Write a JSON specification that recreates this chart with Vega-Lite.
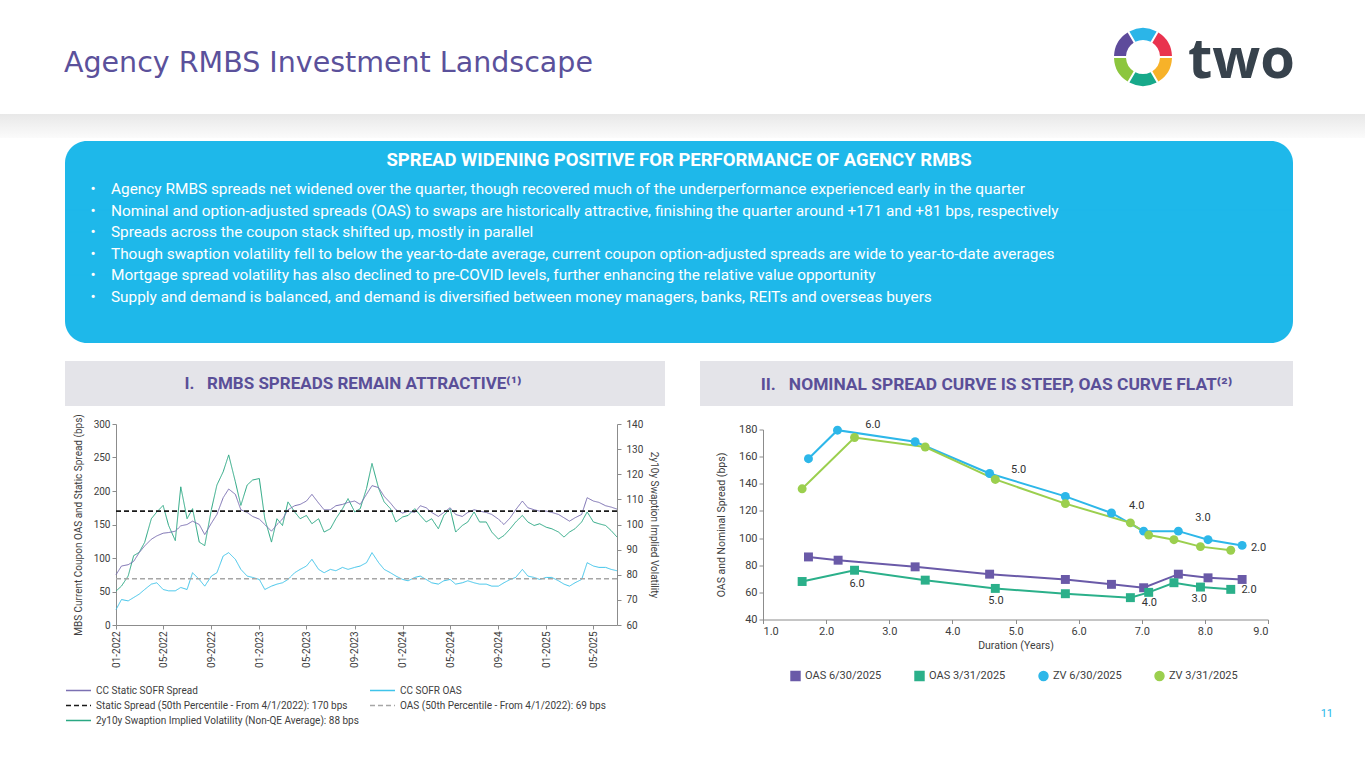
{
  "$schema": "https://vega.github.io/schema/vega-lite/v6.json",
  "padding": 0,
  "background": "#ffffff",
  "config": {
    "font": "Roboto",
    "view": {"stroke": null},
    "axis": {"labelFont": "Roboto", "titleFont": "Roboto", "labelColor": "#404040", "titleColor": "#404040", "domainColor": "#8c8c8c", "tickColor": "#8c8c8c", "grid": false, "titleFontWeight": "normal", "labelOverlap": false},
    "legend": {"labelFont": "Roboto", "labelColor": "#404040"},
    "title": {"font": "Roboto"}
  },
  "spacing": 0,
  "resolve": {"scale": {"color": "independent", "shape": "independent", "strokeDash": "independent"}, "legend": {"color": "independent", "shape": "independent", "strokeDash": "independent"}},
  "vconcat": [
    {
      "spacing": 0,
      "bounds": "flush",
      "resolve": {"scale": {"color": "independent"}, "legend": {"color": "independent"}},
      "hconcat": [
        {"width": 1113, "height": 114, "data": {"values": []}, "mark": "point",
         "title": {"text": "Agency RMBS Investment Landscape", "orient": "bottom", "anchor": "start", "frame": "group", "dx": 64, "offset": -65.5, "fontSize": 28.5, "font": "DejaVu Sans", "fontWeight": 400, "color": "#5b519b"}},
        {"width": 60, "height": 114,
         "data": {"values": [{"k": "a", "v": 1}, {"k": "b", "v": 1}, {"k": "c", "v": 1}, {"k": "d", "v": 1}, {"k": "e", "v": 1}, {"k": "f", "v": 1}]},
         "mark": {"type": "arc", "innerRadius": 17, "outerRadius": 29, "padAngle": 0.06, "thetaOffset": -0.5236},
         "encoding": {
           "theta": {"field": "v", "type": "quantitative", "stack": true},
           "order": {"field": "k"},
           "color": {"field": "k", "type": "nominal", "legend": null, "scale": {"domain": ["a", "b", "c", "d", "e", "f"], "range": ["#2bb5e8", "#e9334f", "#f7b229", "#17a98a", "#8cc63e", "#5e4b9b"]}}
         }},
        {"width": 192, "height": 114, "data": {"values": []}, "mark": "point",
         "title": {"text": "two", "orient": "bottom", "anchor": "start", "frame": "group", "dx": 15, "offset": -80, "fontSize": 56, "font": "Open Sans", "fontWeight": "bold", "color": "#37424c"}}
      ]
    },
    {"width": 1365, "height": 24, "data": {"values": []}, "mark": "point",
     "view": {"fill": {"gradient": "linear", "x1": 0, "y1": 0, "x2": 0, "y2": 1, "stops": [{"offset": 0, "color": "#e8e8e8"}, {"offset": 1, "color": "#fbfbfb"}]}}},
    {
      "spacing": 0,
      "bounds": "flush",
      "hconcat": [
        {"width": 65, "height": 202, "data": {"values": []}, "mark": "point"},
        {"width": 1228, "height": 202,
         "view": {"fill": "#1eb8ea", "cornerRadius": 22},
         "title": {"text": "SPREAD WIDENING POSITIVE FOR PERFORMANCE OF AGENCY RMBS", "orient": "top", "anchor": "middle", "offset": -31, "fontSize": 18.5, "fontWeight": "bold", "color": "#ffffff"},
         "data": {"name": "bullets"},
         "mark": {"type": "rule", "color": "#1eb8ea", "strokeWidth": 1},
         "encoding": {
           "y": {"field": "line", "type": "nominal", "sort": null,
                 "scale": {"type": "point", "padding": 0.176, "align": 0.566,
                           "domain": [" ", "  ",
                                      "•\u00a0\u00a0\u00a0\u00a0Agency RMBS spreads net widened over the quarter, though recovered much of the underperformance experienced early in the quarter",
                                      "•\u00a0\u00a0\u00a0\u00a0Nominal and option-adjusted spreads (OAS) to swaps are historically attractive, finishing the quarter around +171 and +81 bps, respectively",
                                      "•\u00a0\u00a0\u00a0\u00a0Spreads across the coupon stack shifted up, mostly in parallel",
                                      "•\u00a0\u00a0\u00a0\u00a0Though swaption volatility fell to below the year-to-date average, current coupon option-adjusted spreads are wide to year-to-date averages",
                                      "•\u00a0\u00a0\u00a0\u00a0Mortgage spread volatility has also declined to pre-COVID levels, further enhancing the relative value opportunity",
                                      "•\u00a0\u00a0\u00a0\u00a0Supply and demand is balanced, and demand is diversified between money managers, banks, REITs and overseas buyers",
                                      "   ", "    "]},
                 "axis": {"orient": "left", "title": null, "domain": false, "ticks": false, "tickSize": 0, "labelAlign": "left", "labelBaseline": "middle", "labelPadding": -25, "labelColor": "#ffffff", "labelFontSize": 15.4, "labelLimit": 0, "zindex": 1}}
         }}
      ]
    },
    {"width": 1, "height": 12, "data": {"values": []}, "mark": "point"},
    {
      "spacing": 0,
      "bounds": "flush",
      "hconcat": [
        {"width": 65, "height": 45, "data": {"values": []}, "mark": "point"},
        {"width": 600, "height": 45, "data": {"values": []}, "mark": "point", "view": {"fill": "#e4e4e9"},
         "title": {"text": "I.\u00a0\u00a0\u00a0RMBS SPREADS REMAIN ATTRACTIVE⁽¹⁾", "orient": "top", "anchor": "middle", "offset": -32, "dx": -12, "fontSize": 17, "fontWeight": "bold", "color": "#5a4f98"}},
        {"width": 35, "height": 45, "data": {"values": []}, "mark": "point"},
        {"width": 593, "height": 45, "data": {"values": []}, "mark": "point", "view": {"fill": "#e4e4e9"},
         "title": {"text": "II.\u00a0\u00a0\u00a0NOMINAL SPREAD CURVE IS STEEP, OAS CURVE FLAT⁽²⁾", "orient": "top", "anchor": "middle", "offset": -32, "fontSize": 17.4, "fontWeight": "bold", "color": "#5a4f98"}}
      ]
    },
    {"width": 1, "height": 7, "data": {"values": []}, "mark": "point"},
    {
      "spacing": 0,
      "bounds": "flush",
      "center": true,
      "resolve": {"scale": {"color": "independent", "shape": "independent", "strokeDash": "independent"}, "legend": {"color": "independent", "shape": "independent", "strokeDash": "independent"}},
      "hconcat": [
        {"width": 116, "height": 201, "data": {"values": []}, "mark": "point"},
        {
          "width": 501, "height": 201,
          "layer": [
            {
              "data": {"name": "ts"},
              "transform": [{"fold": ["v"], "as": ["k", "val"]}],
              "mark": {"type": "line", "strokeWidth": 1},
              "encoding": {
                "x": {"field": "d", "type": "temporal", "title": null,
                      "scale": {"type": "utc", "domain": [{"year": 2022, "month": 1, "date": 1, "utc": true}, {"year": 2025, "month": 6, "date": 30, "utc": true}]},
                      "axis": {"values": [{"year": 2022, "month": 1, "date": 1, "utc": true}, {"year": 2022, "month": 5, "date": 1, "utc": true}, {"year": 2022, "month": 9, "date": 1, "utc": true}, {"year": 2023, "month": 1, "date": 1, "utc": true}, {"year": 2023, "month": 5, "date": 1, "utc": true}, {"year": 2023, "month": 9, "date": 1, "utc": true}, {"year": 2024, "month": 1, "date": 1, "utc": true}, {"year": 2024, "month": 5, "date": 1, "utc": true}, {"year": 2024, "month": 9, "date": 1, "utc": true}, {"year": 2025, "month": 1, "date": 1, "utc": true}, {"year": 2025, "month": 5, "date": 1, "utc": true}],
                               "format": "%m-%Y", "labelAngle": -90, "labelFontSize": 10, "tickSize": 4, "labelPadding": 2}},
                "y": {"field": "val", "type": "quantitative", "scale": {"domain": [60, 140]},
                      "axis": {"orient": "right", "values": [60, 70, 80, 90, 100, 110, 120, 130, 140], "tickCount": 20, "title": "2y10y Swaption Implied Volatility", "titleAngle": 90, "titleFontSize": 10, "labelFontSize": 10, "tickSize": 4, "labelPadding": 5, "titlePadding": 6}},
                "color": {"field": "k", "type": "nominal",
                          "scale": {"domain": ["s", "o", "p1", "p2", "v"], "range": ["#7b70b2", "#3fc4ea", "#1a1a1a", "#a6a6a6", "#2aa883"]},
                          "legend": {"orient": "none", "legendX": -51, "legendY": 260, "direction": "horizontal", "title": null, "columns": 2, "columnPadding": 10, "rowPadding": 2, "clipHeight": 13, "symbolType": "stroke", "symbolSize": 625, "symbolStrokeWidth": 1.5, "labelFontSize": 10, "labelLimit": 0,
                                     "labelExpr": "datum.label == 's' ? 'CC Static SOFR Spread' : datum.label == 'o' ? 'CC SOFR OAS' : datum.label == 'p1' ? 'Static Spread (50th Percentile - From 4/1/2022): 170 bps' : datum.label == 'p2' ? 'OAS (50th Percentile - From 4/1/2022): 69 bps' : '2y10y Swaption Implied Volatility (Non-QE Average): 88 bps'"}},
                "strokeDash": {"field": "k", "type": "nominal",
                               "scale": {"domain": ["s", "o", "p1", "p2", "v"], "range": [[1, 0], [1, 0], [5, 3], [5, 3], [1, 0]]},
                               "legend": {"orient": "none", "legendX": -51, "legendY": 260, "direction": "horizontal", "title": null, "columns": 2, "columnPadding": 10, "rowPadding": 2, "clipHeight": 13, "symbolType": "stroke", "symbolSize": 625, "symbolStrokeWidth": 1.5, "labelFontSize": 10, "labelLimit": 0,
                                     "labelExpr": "datum.label == 's' ? 'CC Static SOFR Spread' : datum.label == 'o' ? 'CC SOFR OAS' : datum.label == 'p1' ? 'Static Spread (50th Percentile - From 4/1/2022): 170 bps' : datum.label == 'p2' ? 'OAS (50th Percentile - From 4/1/2022): 69 bps' : '2y10y Swaption Implied Volatility (Non-QE Average): 88 bps'"}}
              }
            },
            {
              "layer": [
                {
                  "data": {"name": "ts"},
                  "transform": [{"fold": ["s", "o"], "as": ["k", "val"]}],
                  "mark": {"type": "line", "strokeWidth": 1},
                  "encoding": {
                    "x": {"field": "d", "type": "temporal"},
                    "y": {"field": "val", "type": "quantitative", "scale": {"domain": [0, 300]},
                          "axis": {"orient": "left", "values": [0, 50, 100, 150, 200, 250, 300], "tickCount": 20, "title": "MBS Current Coupon OAS and Static Spread (bps)", "titleFontSize": 10, "labelFontSize": 10, "tickSize": 4, "titlePadding": 10}},
                    "color": {"field": "k", "type": "nominal"},
                    "strokeDash": {"field": "k", "type": "nominal"}
                  }
                },
                {
                  "data": {"name": "ref"},
                  "mark": {"type": "line", "strokeWidth": 1.6},
                  "encoding": {
                    "x": {"field": "d", "type": "temporal"},
                    "y": {"field": "val", "type": "quantitative"},
                    "color": {"field": "k", "type": "nominal"},
                    "strokeDash": {"field": "k", "type": "nominal"}
                  }
                }
              ]
            }
          ],
          "resolve": {"scale": {"y": "independent"}}
        },
        {"width": 146, "height": 1, "data": {"values": []}, "mark": "point"},
        {
          "width": 505, "height": 190,
          "title": {"text": "11", "orient": "bottom", "anchor": "end", "frame": "group", "dx": 65, "offset": 24, "fontSize": 11, "fontWeight": "normal", "color": "#1fb8ea"},
          "layer": [
            {
              "data": {"name": "dur"},
              "mark": {"type": "line", "strokeWidth": 2},
              "encoding": {
                "x": {"field": "dur", "type": "quantitative", "scale": {"domain": [1, 9]},
                      "axis": {"values": [1, 2, 3, 4, 5, 6, 7, 8, 9], "tickCount": 20, "format": ".1f", "title": "Duration (Years)", "labelFontSize": 11, "titleFontSize": 10.5, "tickSize": 4}},
                "y": {"field": "spr", "type": "quantitative", "scale": {"domain": [40, 180]},
                      "axis": {"values": [40, 60, 80, 100, 120, 140, 160, 180], "tickCount": 20, "title": "OAS and Nominal Spread (bps)", "labelFontSize": 11, "titleFontSize": 10.5, "tickSize": 4, "titlePadding": 12}},
                "color": {"field": "s", "type": "nominal",
                          "scale": {"domain": ["OAS 6/30/2025", "OAS 3/31/2025", "ZV 6/30/2025", "ZV 3/31/2025"], "range": ["#6a5aa8", "#2bb08a", "#2db7e9", "#9bcf4e"]},
                          "legend": {"orient": "none", "legendX": 27, "legendY": 241, "direction": "horizontal", "title": null, "labelFontSize": 11, "symbolSize": 80, "columnPadding": 30}}
              }
            },
            {
              "data": {"name": "dur"},
              "mark": {"type": "point", "filled": true, "size": 80, "opacity": 1},
              "encoding": {
                "x": {"field": "dur", "type": "quantitative"},
                "y": {"field": "spr", "type": "quantitative"},
                "color": {"field": "s", "type": "nominal"},
                "shape": {"field": "s", "type": "nominal",
                          "scale": {"domain": ["OAS 6/30/2025", "OAS 3/31/2025", "ZV 6/30/2025", "ZV 3/31/2025"], "range": ["square", "square", "circle", "circle"]}}
              }
            },
            {
              "data": {"name": "lbl"},
              "mark": {"type": "text", "fontSize": 11, "color": "#333333"},
              "encoding": {
                "x": {"field": "dur", "type": "quantitative"},
                "y": {"field": "spr", "type": "quantitative"},
                "text": {"field": "t", "type": "nominal"}
              }
            }
          ]
        }
      ]
    }
  ],
  "datasets": {
    "bullets": [
      {"line": "•\u00a0\u00a0\u00a0\u00a0Agency RMBS spreads net widened over the quarter, though recovered much of the underperformance experienced early in the quarter"},
      {"line": "•\u00a0\u00a0\u00a0\u00a0Nominal and option-adjusted spreads (OAS) to swaps are historically attractive, finishing the quarter around +171 and +81 bps, respectively"},
      {"line": "•\u00a0\u00a0\u00a0\u00a0Spreads across the coupon stack shifted up, mostly in parallel"},
      {"line": "•\u00a0\u00a0\u00a0\u00a0Though swaption volatility fell to below the year-to-date average, current coupon option-adjusted spreads are wide to year-to-date averages"},
      {"line": "•\u00a0\u00a0\u00a0\u00a0Mortgage spread volatility has also declined to pre-COVID levels, further enhancing the relative value opportunity"},
      {"line": "•\u00a0\u00a0\u00a0\u00a0Supply and demand is balanced, and demand is diversified between money managers, banks, REITs and overseas buyers"}
    ],
    "ref": [
      {"d": "2022-01-01", "k": "p1", "val": 170}, {"d": "2025-06-30", "k": "p1", "val": 170},
      {"d": "2022-01-01", "k": "p2", "val": 69}, {"d": "2025-06-30", "k": "p2", "val": 69}
    ],
    "ts": [
      {"d": "2022-01-01", "s": 75, "o": 23, "v": 73.5},
      {"d": "2022-01-15", "s": 88, "o": 38, "v": 75.5},
      {"d": "2022-02-01", "s": 90, "o": 36, "v": 79.5},
      {"d": "2022-02-15", "s": 95, "o": 41, "v": 87.6},
      {"d": "2022-03-01", "s": 108, "o": 46, "v": 88.9},
      {"d": "2022-03-15", "s": 118, "o": 53, "v": 92.9},
      {"d": "2022-04-01", "s": 128, "o": 61, "v": 102.3},
      {"d": "2022-04-15", "s": 133, "o": 63, "v": 105},
      {"d": "2022-05-01", "s": 137, "o": 53, "v": 107.6},
      {"d": "2022-05-15", "s": 138, "o": 51, "v": 99.6},
      {"d": "2022-06-01", "s": 140, "o": 51, "v": 93.6},
      {"d": "2022-06-15", "s": 148, "o": 56, "v": 115},
      {"d": "2022-07-01", "s": 150, "o": 53, "v": 102.3},
      {"d": "2022-07-15", "s": 155, "o": 78, "v": 106.3},
      {"d": "2022-08-01", "s": 150, "o": 68, "v": 93},
      {"d": "2022-08-15", "s": 135, "o": 58, "v": 91.6},
      {"d": "2022-09-01", "s": 152, "o": 73, "v": 106},
      {"d": "2022-09-15", "s": 165, "o": 78, "v": 115.7},
      {"d": "2022-10-01", "s": 190, "o": 103, "v": 121},
      {"d": "2022-10-15", "s": 203, "o": 108, "v": 127.7},
      {"d": "2022-11-01", "s": 195, "o": 98, "v": 117},
      {"d": "2022-11-15", "s": 172, "o": 83, "v": 107.6},
      {"d": "2022-12-01", "s": 168, "o": 73, "v": 115.7},
      {"d": "2022-12-15", "s": 162, "o": 71, "v": 117.7},
      {"d": "2023-01-01", "s": 158, "o": 68, "v": 118.3},
      {"d": "2023-01-15", "s": 150, "o": 53, "v": 102.3},
      {"d": "2023-02-01", "s": 140, "o": 58, "v": 93},
      {"d": "2023-02-15", "s": 150, "o": 61, "v": 102.3},
      {"d": "2023-03-01", "s": 158, "o": 63, "v": 99.6},
      {"d": "2023-03-15", "s": 172, "o": 68, "v": 109},
      {"d": "2023-04-01", "s": 178, "o": 78, "v": 105},
      {"d": "2023-04-15", "s": 180, "o": 83, "v": 102.3},
      {"d": "2023-05-01", "s": 185, "o": 88, "v": 103.6},
      {"d": "2023-05-15", "s": 195, "o": 98, "v": 100.3},
      {"d": "2023-06-01", "s": 182, "o": 83, "v": 102.3},
      {"d": "2023-06-15", "s": 172, "o": 78, "v": 97},
      {"d": "2023-07-01", "s": 172, "o": 83, "v": 98.3},
      {"d": "2023-07-15", "s": 178, "o": 81, "v": 102.3},
      {"d": "2023-08-01", "s": 180, "o": 86, "v": 106.3},
      {"d": "2023-08-15", "s": 183, "o": 83, "v": 110.3},
      {"d": "2023-09-01", "s": 185, "o": 86, "v": 105},
      {"d": "2023-09-15", "s": 180, "o": 88, "v": 106.3},
      {"d": "2023-10-01", "s": 195, "o": 93, "v": 114.3},
      {"d": "2023-10-15", "s": 208, "o": 108, "v": 124.3},
      {"d": "2023-11-01", "s": 205, "o": 93, "v": 114.3},
      {"d": "2023-11-15", "s": 192, "o": 83, "v": 109},
      {"d": "2023-12-01", "s": 182, "o": 78, "v": 106.3},
      {"d": "2023-12-15", "s": 172, "o": 73, "v": 101},
      {"d": "2024-01-01", "s": 167, "o": 68, "v": 103},
      {"d": "2024-01-15", "s": 170, "o": 66, "v": 103.6},
      {"d": "2024-02-01", "s": 168, "o": 71, "v": 106.3},
      {"d": "2024-02-15", "s": 178, "o": 73, "v": 103.6},
      {"d": "2024-03-01", "s": 175, "o": 68, "v": 101},
      {"d": "2024-03-15", "s": 168, "o": 63, "v": 102.3},
      {"d": "2024-04-01", "s": 162, "o": 61, "v": 98.3},
      {"d": "2024-04-15", "s": 168, "o": 66, "v": 103.6},
      {"d": "2024-05-01", "s": 175, "o": 68, "v": 106.3},
      {"d": "2024-05-15", "s": 165, "o": 61, "v": 97},
      {"d": "2024-06-01", "s": 162, "o": 63, "v": 99.6},
      {"d": "2024-06-15", "s": 168, "o": 66, "v": 101},
      {"d": "2024-07-01", "s": 172, "o": 63, "v": 105},
      {"d": "2024-07-15", "s": 170, "o": 61, "v": 101},
      {"d": "2024-08-01", "s": 168, "o": 61, "v": 101},
      {"d": "2024-08-15", "s": 165, "o": 58, "v": 97},
      {"d": "2024-09-01", "s": 158, "o": 58, "v": 94.2},
      {"d": "2024-09-15", "s": 150, "o": 63, "v": 95.6},
      {"d": "2024-10-01", "s": 160, "o": 68, "v": 98.3},
      {"d": "2024-10-15", "s": 172, "o": 71, "v": 101},
      {"d": "2024-11-01", "s": 185, "o": 83, "v": 103.6},
      {"d": "2024-11-15", "s": 175, "o": 73, "v": 101},
      {"d": "2024-12-01", "s": 172, "o": 71, "v": 99.6},
      {"d": "2024-12-15", "s": 170, "o": 68, "v": 100.3},
      {"d": "2025-01-01", "s": 170, "o": 71, "v": 98.9},
      {"d": "2025-01-15", "s": 168, "o": 71, "v": 98.3},
      {"d": "2025-02-01", "s": 165, "o": 66, "v": 97},
      {"d": "2025-02-15", "s": 160, "o": 61, "v": 95},
      {"d": "2025-03-01", "s": 155, "o": 58, "v": 97},
      {"d": "2025-03-15", "s": 160, "o": 63, "v": 98.3},
      {"d": "2025-04-01", "s": 165, "o": 68, "v": 101},
      {"d": "2025-04-15", "s": 190, "o": 93, "v": 105},
      {"d": "2025-05-01", "s": 185, "o": 88, "v": 101},
      {"d": "2025-05-15", "s": 183, "o": 86, "v": 100.3},
      {"d": "2025-06-01", "s": 178, "o": 86, "v": 99.6},
      {"d": "2025-06-15", "s": 176, "o": 83, "v": 97.6},
      {"d": "2025-06-30", "s": 173, "o": 81, "v": 95}
    ],
    "dur": [
      {"s": "OAS 6/30/2025", "dur": 1.72, "spr": 86.1},
      {"s": "OAS 6/30/2025", "dur": 2.19, "spr": 83.7},
      {"s": "OAS 6/30/2025", "dur": 3.41, "spr": 78.8},
      {"s": "OAS 6/30/2025", "dur": 4.59, "spr": 73.4},
      {"s": "OAS 6/30/2025", "dur": 5.79, "spr": 69.5},
      {"s": "OAS 6/30/2025", "dur": 6.52, "spr": 65.9},
      {"s": "OAS 6/30/2025", "dur": 7.03, "spr": 63.4},
      {"s": "OAS 6/30/2025", "dur": 7.58, "spr": 73.4},
      {"s": "OAS 6/30/2025", "dur": 8.05, "spr": 70.7},
      {"s": "OAS 6/30/2025", "dur": 8.59, "spr": 69.5},
      {"s": "OAS 3/31/2025", "dur": 1.62, "spr": 68.0},
      {"s": "OAS 3/31/2025", "dur": 2.45, "spr": 76.3},
      {"s": "OAS 3/31/2025", "dur": 3.57, "spr": 69.0},
      {"s": "OAS 3/31/2025", "dur": 4.68, "spr": 62.9},
      {"s": "OAS 3/31/2025", "dur": 5.79, "spr": 59.0},
      {"s": "OAS 3/31/2025", "dur": 6.82, "spr": 56.1},
      {"s": "OAS 3/31/2025", "dur": 7.11, "spr": 60.0},
      {"s": "OAS 3/31/2025", "dur": 7.51, "spr": 67.1},
      {"s": "OAS 3/31/2025", "dur": 7.93, "spr": 63.9},
      {"s": "OAS 3/31/2025", "dur": 8.41, "spr": 62.2},
      {"s": "ZV 6/30/2025", "dur": 1.72, "spr": 158.5},
      {"s": "ZV 6/30/2025", "dur": 2.18, "spr": 179.5},
      {"s": "ZV 6/30/2025", "dur": 3.41, "spr": 171.0},
      {"s": "ZV 6/30/2025", "dur": 4.59, "spr": 147.6},
      {"s": "ZV 6/30/2025", "dur": 5.79, "spr": 130.7},
      {"s": "ZV 6/30/2025", "dur": 6.52, "spr": 118.5},
      {"s": "ZV 6/30/2025", "dur": 7.03, "spr": 105.1},
      {"s": "ZV 6/30/2025", "dur": 7.58, "spr": 105.1},
      {"s": "ZV 6/30/2025", "dur": 8.05, "spr": 98.8},
      {"s": "ZV 6/30/2025", "dur": 8.59, "spr": 94.6},
      {"s": "ZV 3/31/2025", "dur": 1.62, "spr": 136.3},
      {"s": "ZV 3/31/2025", "dur": 2.45, "spr": 174.1},
      {"s": "ZV 3/31/2025", "dur": 3.57, "spr": 167.1},
      {"s": "ZV 3/31/2025", "dur": 4.68, "spr": 143.2},
      {"s": "ZV 3/31/2025", "dur": 5.79, "spr": 125.4},
      {"s": "ZV 3/31/2025", "dur": 6.82, "spr": 111.2},
      {"s": "ZV 3/31/2025", "dur": 7.11, "spr": 102.2},
      {"s": "ZV 3/31/2025", "dur": 7.51, "spr": 98.8},
      {"s": "ZV 3/31/2025", "dur": 7.93, "spr": 93.7},
      {"s": "ZV 3/31/2025", "dur": 8.41, "spr": 91.0}
    ],
    "lbl": [
      {"t": "6.0", "dur": 2.74, "spr": 183.4},
      {"t": "5.0", "dur": 5.05, "spr": 150.5},
      {"t": "4.0", "dur": 6.92, "spr": 123.4},
      {"t": "3.0", "dur": 7.97, "spr": 114.9},
      {"t": "2.0", "dur": 8.85, "spr": 92.7},
      {"t": "6.0", "dur": 2.49, "spr": 66.1},
      {"t": "5.0", "dur": 4.69, "spr": 53.7},
      {"t": "4.0", "dur": 7.12, "spr": 52.0},
      {"t": "3.0", "dur": 7.91, "spr": 55.4},
      {"t": "2.0", "dur": 8.70, "spr": 62.0}
    ]
  }
}
